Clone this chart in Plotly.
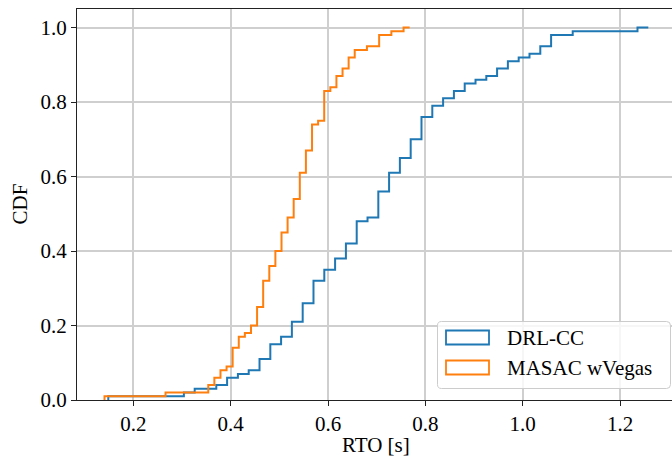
import plotly.graph_objects as go

# ---- data ----
# x position where each CDF step rises, and the CDF level after that rise
drl_x = [0.1486, 0.3039, 0.3261, 0.3705, 0.3927, 0.4149, 0.4371, 0.4593, 0.4815,
         0.5036, 0.5258, 0.5480, 0.5702, 0.5924, 0.6146, 0.6368, 0.6590, 0.6812,
         0.7034, 0.7255, 0.7477, 0.7699, 0.7921, 0.8143, 0.8365, 0.8587, 0.8809,
         0.9031, 0.9253, 0.9474, 0.9696, 0.9918, 1.0140, 1.0362, 1.0584, 1.1028,
         1.2359]
drl_y = [0.01, 0.02, 0.03, 0.04, 0.06, 0.07, 0.08, 0.11, 0.15,
         0.17, 0.21, 0.26, 0.32, 0.35, 0.38, 0.42, 0.48, 0.49,
         0.56, 0.61, 0.65, 0.70, 0.76, 0.79, 0.81, 0.83, 0.85,
         0.86, 0.87, 0.89, 0.91, 0.92, 0.93, 0.95, 0.98, 0.99,
         1.00]
drl_end = 1.2581

masac_x = [0.1408, 0.2662, 0.3540, 0.3665, 0.3791, 0.3916, 0.4041, 0.4167, 0.4292,
           0.4418, 0.4543, 0.4668, 0.4794, 0.4919, 0.5045, 0.5170, 0.5295, 0.5421,
           0.5546, 0.5672, 0.5797, 0.5922, 0.6048, 0.6173, 0.6299, 0.6424, 0.6549,
           0.6800, 0.7051, 0.7302, 0.7553]
masac_y = [0.01, 0.02, 0.04, 0.06, 0.08, 0.09, 0.14, 0.17, 0.18,
           0.20, 0.25, 0.32, 0.36, 0.40, 0.45, 0.49, 0.54, 0.61,
           0.67, 0.74, 0.75, 0.83, 0.84, 0.87, 0.89, 0.92, 0.94,
           0.95, 0.98, 0.99, 1.00]
masac_end = 0.7678

series_names = ["DRL-CC", "MASAC wVegas"]
series_colors = ["#1f77b4", "#ff7f0e"]
x_ticks = [0.2, 0.4, 0.6, 0.8, 1.0, 1.2]
y_ticks = [0.0, 0.2, 0.4, 0.6, 0.8, 1.0]
x_title = "RTO [s]"
y_title = "CDF"

# ---- layout constants ----
W, H = 672, 458
ML, MR, MT, MB = 77, 0, 9, 58
FONT = "Liberation Serif"
FS = 21


def px2x(px):
    return (px - ML) / (W - ML - MR)


def py2y(py):
    return 1 - (py - MT) / (H - MT - MB)


def step_trace(xs, ys, xend, color, name):
    x = [xs[0]] + list(xs) + [xend]
    y = [0.0] + list(ys) + [ys[-1]]
    return go.Scatter(x=x, y=y, mode="lines", line=dict(shape="hv", color=color, width=2),
                      name=name, showlegend=False, hoverinfo="skip")


def rounded_rect_path(x0, y0, x1, y1, r):
    # pixel coordinates (y down) -> paper path with rounded corners
    pts = []
    X = lambda v: f"{px2x(v):.5f}"
    Y = lambda v: f"{py2y(v):.5f}"
    pts.append(f"M {X(x0 + r)},{Y(y0)}")
    pts.append(f"L {X(x1 - r)},{Y(y0)}")
    pts.append(f"Q {X(x1)},{Y(y0)} {X(x1)},{Y(y0 + r)}")
    pts.append(f"L {X(x1)},{Y(y1 - r)}")
    pts.append(f"Q {X(x1)},{Y(y1)} {X(x1 - r)},{Y(y1)}")
    pts.append(f"L {X(x0 + r)},{Y(y1)}")
    pts.append(f"Q {X(x0)},{Y(y1)} {X(x0)},{Y(y1 - r)}")
    pts.append(f"L {X(x0)},{Y(y0 + r)}")
    pts.append(f"Q {X(x0)},{Y(y0)} {X(x0 + r)},{Y(y0)} Z")
    return " ".join(pts)


fig = go.Figure()
fig.add_trace(step_trace(drl_x, drl_y, drl_end, series_colors[0], series_names[0]))
fig.add_trace(step_trace(masac_x, masac_y, masac_end, series_colors[1], series_names[1]))

axis_common = dict(
    showgrid=True, gridcolor="#cfcfcf", gridwidth=1.6,
    zeroline=False, showline=True, linecolor="#222", linewidth=1.2,
    ticks="outside", ticklen=5, tickwidth=1.2, tickcolor="#222",
    tickfont=dict(family=FONT, size=FS, color="black"),
    tickformat=".1f", automargin=False,
)

fig.update_xaxes(range=[0.0843, 1.3068], tickvals=x_ticks, mirror=True, **axis_common)
fig.update_yaxes(range=[0, 1.05], tickvals=y_ticks, mirror=False, **axis_common)

# ---- custom legend (outlined patches like matplotlib step histograms) ----
shapes = []
shapes.append(dict(type="path", xref="paper", yref="paper",
                   path=rounded_rect_path(437.5, 321.5, 670.5, 388.5, 4),
                   line=dict(color="rgba(204,204,204,1)", width=1),
                   fillcolor="rgba(255,255,255,0.8)", layer="above"))
patch_rows = [(330.5, 344.5), (360.5, 374.5)]
for (t, b), c in zip(patch_rows, series_colors):
    shapes.append(dict(type="rect", xref="paper", yref="paper",
                       x0=px2x(446), x1=px2x(489), y0=py2y(b), y1=py2y(t),
                       line=dict(color=c, width=1.8), fillcolor="rgba(0,0,0,0)", layer="above"))
annotations = []
for (t, b), name in zip(patch_rows, series_names):
    annotations.append(dict(xref="paper", yref="paper", x=px2x(505), y=py2y((t + b) / 2),
                            text=name, showarrow=False, xanchor="left", yanchor="middle",
                            font=dict(family=FONT, size=FS, color="black")))
# axis titles
annotations.append(dict(xref="paper", yref="paper", x=px2x(376), y=py2y(445),
                        text=x_title, showarrow=False, xanchor="center", yanchor="middle",
                        font=dict(family=FONT, size=FS, color="black")))
annotations.append(dict(xref="paper", yref="paper", x=px2x(19), y=0.5, textangle=-90,
                        text=y_title, showarrow=False, xanchor="center", yanchor="middle",
                        font=dict(family=FONT, size=FS, color="black")))

fig.update_layout(
    width=W, height=H,
    margin=dict(l=ML, r=MR, t=MT, b=MB),
    paper_bgcolor="white", plot_bgcolor="white",
    font=dict(family=FONT, size=FS, color="black"),
    shapes=shapes, annotations=annotations,
)

fig.write_html("out.html", config={"displayModeBar": False},
               post_script="document.body.style.margin='0';document.body.style.overflow='hidden';")
